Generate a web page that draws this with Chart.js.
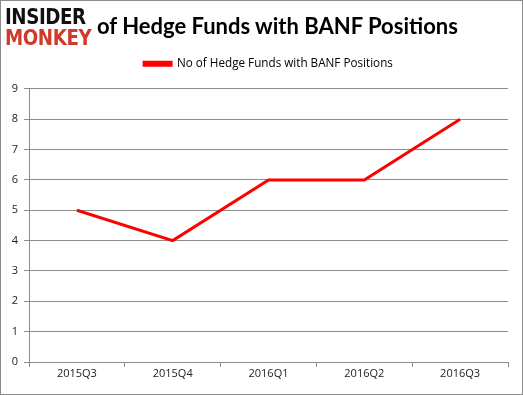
<!DOCTYPE html>
<html>
<head>
<meta charset="utf-8">
<script src="https://cdn.jsdelivr.net/npm/chart.js@4"></script>
<style>
  body { margin: 0; background: #fff; }
  #wrap { position: relative; width: 521px; height: 393px; border: 1px solid #8c8c8c; }
  #logo { position: absolute; left: 4px; top: 6px; font-family: "DejaVu Sans", sans-serif; font-weight: bold; font-size: 21px; line-height: 21px; letter-spacing: -0.5px; transform: scaleX(0.87); transform-origin: left top; }
  #logo .a { color: #111; }
  #logo .b { color: #d13a2a; }
  #title { position: absolute; left: 96px; top: 11px; font-family: Lato, sans-serif; font-weight: bold; font-size: 22px; color: #000; white-space: nowrap; }
  canvas { position: absolute; left: 0; top: 0; }
</style>
</head>
<body>
<div id="wrap">
  <canvas id="chart" width="521" height="393"></canvas>
  <div id="logo"><div class="a">INSIDER</div><div class="b">MONKEY</div></div>
  <div id="title">of Hedge Funds with BANF Positions</div>
</div>
<script>
const quarters = ['2015Q3', '2015Q4', '2016Q1', '2016Q2', '2016Q3']
const fundCounts = [5, 4, 6, 6, 8]
const seriesName = 'No of Hedge Funds with BANF Positions'

const tickFont = { family: '"Open Sans", sans-serif', size: 11 }

new Chart('chart', {
    type: 'line',
    data: {
        labels: quarters,
        datasets: [{
            label: seriesName,
            data: fundCounts,
            borderColor: '#ff0000',
            backgroundColor: '#ff0000',
            borderWidth: 3,
            pointRadius: 0,
            tension: 0
        }]
    },
    options: {
        responsive: false,
        animation: false,
        layout: { padding: { top: 53, right: 14, left: 0, bottom: 0 } },
        plugins: {
            legend: {
                fullSize: false,
                labels: {
                    boxWidth: 27,
                    boxHeight: 3,
                    color: '#000',
                    font: { family: '"Open Sans", sans-serif', size: 11.7 },
                    padding: 4
                }
            },
            // empty spacer between legend and plot
            subtitle: {
                display: true,
                text: '',
                weight: 500,
                font: { size: 1 },
                padding: { top: 0, bottom: 8 }
            },
            tooltip: { enabled: false }
        },
        scales: {
            y: {
                min: 0,
                max: 9,
                ticks: { stepSize: 1, color: '#222', font: tickFont, padding: 6 },
                grid: { color: '#8c8c8c', tickLength: 5 },
                border: { color: '#8c8c8c' },
                afterFit: s => { s.width = 28 }
            },
            x: {
                offset: true,
                ticks: { color: '#222', font: tickFont, padding: 0 },
                grid: { offset: true, drawOnChartArea: false, color: '#8c8c8c', tickLength: 5 },
                border: { color: '#8c8c8c' },
                afterFit: s => { s.height = 32 }
            }
        }
    }
})
</script>
</body>
</html>
